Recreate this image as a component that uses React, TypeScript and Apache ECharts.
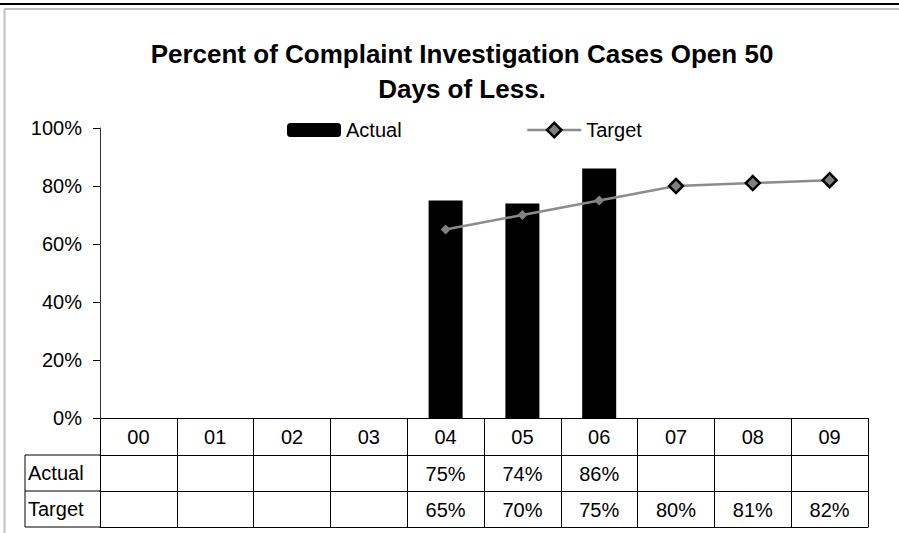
import React, { useEffect, useRef } from "react";
import * as echarts from "echarts";

const categories = ["00", "01", "02", "03", "04", "05", "06", "07", "08", "09"];
const actual: (number | null)[] = [null, null, null, null, 0.75, 0.74, 0.86, null, null, null];
const target: (number | null)[] = [null, null, null, null, 0.65, 0.7, 0.75, 0.8, 0.81, 0.82];
const smallMarkerIdx = [4, 5, 6];
const titleText = "Percent of Complaint Investigation Cases Open 50\nDays of Less.";

const FONT = "'Liberation Sans', Arial, sans-serif";

const pct = (v: number | null) => (v == null ? "" : `${Math.round(v * 100)}%`);

export default function App() {
  const ref = useRef<HTMLDivElement>(null);
  useEffect(() => {
    if (!ref.current) return;
    const chart = echarts.init(ref.current, undefined, { renderer: "svg" });
    const W = 899;
    const gridLeft = 100;
    const gridRight = 31;
    const gridTop = 128;
    const gridBottom = 115;
    const axisY = 533 - gridBottom; // 418
    const rowH = [37, 36, 36];
    const y1 = axisY + rowH[0];
    const y2 = y1 + rowH[1];
    const y3 = y2 + rowH[2];
    const tableLeft = 25;

    const targetData = target.map((v, i) =>
      v == null
        ? null
        : smallMarkerIdx.includes(i)
        ? {
            value: v,
            symbolSize: 10,
            itemStyle: { color: "#808080", borderWidth: 0 },
          }
        : v
    );

    const baseLabel = { color: "#000", fontFamily: FONT, fontSize: 20, lineHeight: 20 };

    chart.setOption({
      animation: false,
      backgroundColor: "#fff",
      textStyle: { fontFamily: FONT, color: "#000" },
      title: {
        text: titleText,
        left: 457,
        top: 31,
        textAlign: "center",
        textStyle: {
          fontFamily: FONT,
          fontSize: 26,
          fontWeight: "bold",
          color: "#000",
          lineHeight: 35,
        },
      },
      legend: [
        {
          data: ["Actual"],
          left: 282,
          top: 115,
          itemWidth: 54,
          itemHeight: 14,
          itemGap: 5,
          textStyle: { ...baseLabel },
        },
        {
          data: ["Target"],
          left: 521,
          top: 115,
          itemWidth: 54,
          itemHeight: 18,
          itemStyle: { color: "#808080", borderColor: "#000", borderWidth: 2.5 },
          lineStyle: { color: "#8c8c8c", width: 2.5 },
          textStyle: { ...baseLabel },
        },
      ],
      grid: { left: gridLeft, right: gridRight, top: gridTop, bottom: gridBottom },
      xAxis: [
        {
          type: "category",
          data: categories,
          position: "bottom",
          axisLine: { show: true, lineStyle: { color: "#000", width: 1 } },
          axisTick: {
            show: true,
            length: rowH[0] + rowH[1] + rowH[2],
            interval: 0,
            lineStyle: { color: "#000", width: 1 },
          },
          axisLabel: { ...baseLabel, margin: 9, interval: 0 },
          splitLine: { show: false },
        },
        {
          type: "category",
          data: categories,
          position: "bottom",
          offset: rowH[0],
          axisLine: { show: true, lineStyle: { color: "#000", width: 1 } },
          axisTick: { show: false },
          axisLabel: {
            ...baseLabel,
            margin: 9,
            interval: 0,
            formatter: (_v: string, i: number) => pct(actual[i]),
          },
        },
        {
          type: "category",
          data: categories,
          position: "bottom",
          offset: rowH[0] + rowH[1],
          axisLine: { show: true, lineStyle: { color: "#000", width: 1 } },
          axisTick: { show: false },
          axisLabel: {
            ...baseLabel,
            margin: 9,
            interval: 0,
            formatter: (_v: string, i: number) => pct(target[i]),
          },
        },
        {
          type: "category",
          data: categories,
          position: "bottom",
          offset: rowH[0] + rowH[1] + rowH[2],
          axisLine: { show: true, lineStyle: { color: "#000", width: 1 } },
          axisTick: { show: false },
          axisLabel: { show: false },
        },
      ],
      yAxis: {
        type: "value",
        min: 0,
        max: 1,
        interval: 0.2,
        axisLine: { show: true, lineStyle: { color: "#333", width: 1 } },
        axisTick: { show: true, length: 7, lineStyle: { color: "#000" } },
        splitLine: { show: false },
        axisLabel: {
          ...baseLabel,
          margin: 18,
          formatter: (v: number) => `${Math.round(v * 100)}%`,
        },
      },
      series: [
        {
          name: "Actual",
          type: "bar",
          data: actual,
          barWidth: 34,
          itemStyle: { color: "#000" },
        },
        {
          name: "Target",
          type: "line",
          data: targetData,
          symbol: "diamond",
          symbolSize: 14,
          lineStyle: { color: "#8c8c8c", width: 2.5 },
          itemStyle: { color: "#808080", borderColor: "#000", borderWidth: 2.5 },
          z: 5,
        },
      ],
      graphic: [
        { type: "line", shape: { x1: 0, y1: 4, x2: W, y2: 4 }, style: { stroke: "#000", lineWidth: 2 } },
        { type: "line", shape: { x1: 4, y1: 9, x2: W, y2: 9 }, style: { stroke: "#c0c0c0", lineWidth: 2 } },
        { type: "line", shape: { x1: 4.5, y1: 9, x2: 4.5, y2: 533 }, style: { stroke: "#c0c0c0", lineWidth: 2 } },
        { type: "line", shape: { x1: tableLeft, y1: y1, x2: gridLeft, y2: y1 }, style: { stroke: "#000", lineWidth: 1 } },
        { type: "line", shape: { x1: tableLeft, y1: y2, x2: gridLeft, y2: y2 }, style: { stroke: "#000", lineWidth: 1 } },
        { type: "line", shape: { x1: tableLeft, y1: y3, x2: gridLeft, y2: y3 }, style: { stroke: "#000", lineWidth: 1 } },
        { type: "line", shape: { x1: tableLeft, y1: y1, x2: tableLeft, y2: y3 }, style: { stroke: "#000", lineWidth: 1 } },
        {
          type: "text",
          x: tableLeft + 3,
          y: (y1 + y2) / 2,
          style: { text: "Actual", font: `20px ${FONT}`, fill: "#000", textVerticalAlign: "middle" },
        },
        {
          type: "text",
          x: tableLeft + 3,
          y: (y2 + y3) / 2,
          style: { text: "Target", font: `20px ${FONT}`, fill: "#000", textVerticalAlign: "middle" },
        },
      ],
    });
    return () => chart.dispose();
  }, []);
  return (
    <div
      ref={ref}
      style={{ position: "fixed", left: 0, top: 0, width: 899, height: 533, background: "#fff" }}
    />
  );
}
